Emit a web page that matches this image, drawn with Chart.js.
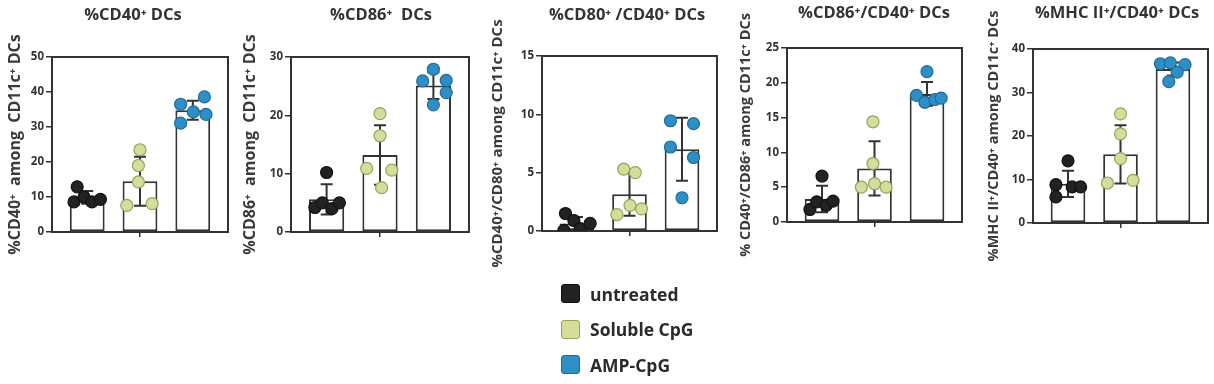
<!DOCTYPE html>
<html>
<head>
<meta charset="utf-8">
<script src="https://cdn.jsdelivr.net/npm/chart.js@4.4.1/dist/chart.umd.min.js"></script>
<style>
  html, body { margin: 0; padding: 0; background: #fff; width: 1214px; height: 384px; overflow: hidden; position: relative; }
  canvas.panel { position: absolute; top: 0; }
  #legend { position: absolute; left: 561px; top: 276px; font: bold 17.5px "Open Sans", "Noto Sans", sans-serif; color: #2b2b2b; }
  .item { display: flex; align-items: center; height: 35.5px; }
  .swatch { width: 19px; height: 19px; border-radius: 3px; margin-right: 10px; box-sizing: border-box; border: 1.5px solid; }
</style>
</head>
<body>
<canvas id="p0" class="panel"></canvas>
<canvas id="p1" class="panel"></canvas>
<canvas id="p2" class="panel"></canvas>
<canvas id="p3" class="panel"></canvas>
<canvas id="p4" class="panel"></canvas>
<div id="legend"></div>
<script>
// groups
const groups = ['untreated', 'Soluble CpG', 'AMP-CpG'];

// %CD40+ DCs
const cd40Untreated = [12.9, 8.6, 10.0, 8.6, 9.3];
const cd40Soluble   = [23.5, 19.0, 14.3, 7.6, 8.1];
const cd40Amp       = [36.5, 38.6, 34.3, 31.1, 33.6];
const cd40Mean      = [9.9, 14.5, 34.8];
const cd40Sd        = [1.8, 7.0, 2.7];
const cd40Ticks     = [0, 10, 20, 30, 40, 50];
const cd40Jitter    = [[-0.19, -0.25, -0.06, 0.09, 0.25], [0, -0.03, -0.03, -0.25, 0.23], [-0.23, 0.22, 0.01, -0.23, 0.25]];

// %CD86+ DCs
const cd86Untreated = [10.2, 4.2, 5.0, 4.0, 5.0];
const cd86Soluble   = [20.3, 16.5, 10.9, 10.6, 7.6];
const cd86Amp       = [27.9, 25.9, 26.0, 23.9, 21.8];
const cd86Mean      = [5.6, 13.2, 25.1];
const cd86Sd        = [2.6, 5.1, 2.3];
const cd86Ticks     = [0, 10, 20, 30];
const cd86Jitter    = [[0, -0.22, -0.08, 0.1, 0.24], [0, 0, -0.25, 0.22, 0.03], [0, -0.2, 0.24, 0.24, 0]];

// %CD80+/CD40+ DCs
const cd80Untreated = [1.5, 0.9, 0.05, 0.2, 0.65];
const cd80Soluble   = [5.3, 5.0, 2.2, 1.4, 1.9];
const cd80Amp       = [9.45, 9.2, 7.2, 6.3, 2.85];
const cd80Mean      = [0.65, 3.15, 7.0];
const cd80Sd        = [0.55, 1.85, 2.7];
const cd80Ticks     = [0, 5, 10, 15];
const cd80Jitter    = [[-0.22, -0.06, -0.25, 0.06, 0.25], [-0.11, 0.11, 0.01, -0.24, 0.23], [-0.22, 0.22, -0.22, 0.22, 0]];

// %CD86+/CD40+ DCs
const dpUntreated = [6.6, 1.8, 2.9, 2.4, 3.0];
const dpSoluble   = [14.4, 8.4, 5.5, 5.0, 5.0];
const dpAmp       = [21.6, 18.2, 17.2, 17.6, 17.8];
const dpMean      = [3.3, 7.7, 18.4];
const dpSd        = [1.9, 3.9, 1.7];
const dpTicks     = [0, 5, 10, 15, 20, 25];
const dpJitter    = [[0, -0.23, -0.1, 0.08, 0.21], [-0.03, -0.03, 0, -0.25, 0.22], [0, -0.2, -0.04, 0.15, 0.27]];

// %MHC II+/CD40+ DCs
const mhcUntreated = [14.3, 8.8, 6.0, 8.3, 8.3];
const mhcSoluble   = [25.1, 20.5, 14.8, 9.2, 9.8];
const mhcAmp       = [36.6, 36.8, 36.4, 34.7, 32.5];
const mhcMean      = [9.0, 15.8, 35.4];
const mhcSd        = [3.0, 6.7, 1.5];
const mhcTicks     = [0, 10, 20, 30, 40];
const mhcJitter    = [[0, -0.23, -0.23, 0.08, 0.24], [0, 0, 0, -0.25, 0.24], [-0.24, -0.05, 0.23, 0.08, -0.08]];

const panels = [
  { title: '%CD40⁺ DCs', yTitle: '%CD40⁺  among  CD11c⁺ DCs',
    pts: [cd40Untreated, cd40Soluble, cd40Amp], jitter: cd40Jitter, mean: cd40Mean, sd: cd40Sd, ticks: cd40Ticks },
  { title: '%CD86⁺  DCs', yTitle: '%CD86⁺  among  CD11c⁺ DCs',
    pts: [cd86Untreated, cd86Soluble, cd86Amp], jitter: cd86Jitter, mean: cd86Mean, sd: cd86Sd, ticks: cd86Ticks },
  { title: '%CD80⁺ /CD40⁺ DCs', yTitle: '%CD40⁺/CD80⁺ among CD11c⁺ DCs',
    pts: [cd80Untreated, cd80Soluble, cd80Amp], jitter: cd80Jitter, mean: cd80Mean, sd: cd80Sd, ticks: cd80Ticks },
  { title: '%CD86⁺/CD40⁺ DCs', yTitle: '% CD40⁺/CD86⁺ among CD11c⁺ DCs',
    pts: [dpUntreated, dpSoluble, dpAmp], jitter: dpJitter, mean: dpMean, sd: dpSd, ticks: dpTicks },
  { title: '%MHC II⁺/CD40⁺ DCs', yTitle: '%MHC II⁺/CD40⁺ among CD11c⁺ DCs',
    pts: [mhcUntreated, mhcSoluble, mhcAmp], jitter: mhcJitter, mean: mhcMean, sd: mhcSd, ticks: mhcTicks }
];

// page layout of each panel: axis-title x and size, plot box, chart-title centre
const boxes = [
  { yt: 16,  ys: 16,   l: 52,   t: 57, r: 228,  b: 232, tx: 133,  ty: 15 },
  { yt: 251, ys: 16,   l: 291,  t: 57, r: 469,  b: 232, tx: 381,  ty: 15 },
  { yt: 498, ys: 15,   l: 542,  t: 56, r: 717,  b: 231, tx: 627,  ty: 15 },
  { yt: 746, ys: 14.5, l: 787,  t: 48, r: 962,  b: 222, tx: 874,  ty: 13 },
  { yt: 994, ys: 14.5, l: 1033, t: 49, r: 1208, b: 223, tx: 1117, ty: 13 }
];

const fillColors = ['#222222', '#d6dd9b', '#2e8fc6'];
const edgeColors = ['#111111', '#97a25a', '#1f6c99'];
const ink = '#333333';
const fontStack = '"Open Sans", "Noto Sans", "DejaVu Sans", sans-serif';

Chart.defaults.font.family = fontStack;
Chart.defaults.color = ink;

// plot frame (GraphPad style box)
const framePlugin = {
  id: 'frame',
  beforeDatasetsDraw(chart) {
    const { ctx, chartArea: a } = chart;
    ctx.save();
    ctx.strokeStyle = ink;
    ctx.lineWidth = 2;
    ctx.strokeRect(a.left, a.top, a.right - a.left, a.bottom - a.top);
    ctx.restore();
  }
};

// mean +/- SD whiskers, drawn right after the bars so the dots sit on top
const errorBarPlugin = {
  id: 'errbars',
  afterDatasetDraw(chart, args, opts) {
    if (args.meta.type !== 'bar') return;
    const { ctx } = chart;
    const y = chart.scales.y;
    ctx.save();
    ctx.strokeStyle = ink;
    ctx.lineWidth = 2;
    args.meta.data.forEach((bar, i) => {
      const m = opts.mean[i], s = opts.sd[i];
      const yTop = y.getPixelForValue(m + s);
      const yBot = y.getPixelForValue(Math.max(m - s, 0));
      ctx.beginPath();
      ctx.moveTo(bar.x, yTop); ctx.lineTo(bar.x, yBot);
      ctx.moveTo(bar.x - 6, yTop); ctx.lineTo(bar.x + 6, yTop);
      ctx.moveTo(bar.x - 6, yBot); ctx.lineTo(bar.x + 6, yBot);
      ctx.stroke();
    });
    ctx.restore();
  }
};

// panel heading, placed where it sits in the figure
const headingPlugin = {
  id: 'heading',
  afterDraw(chart, args, opts) {
    const { ctx } = chart;
    ctx.save();
    ctx.fillStyle = ink;
    ctx.font = 'bold 16.5px ' + fontStack;
    ctx.textAlign = 'center';
    ctx.textBaseline = 'middle';
    ctx.fillText(opts.text, opts.x, opts.y);
    ctx.restore();
  }
};

panels.forEach((p, idx) => {
  const box = boxes[idx];
  const H = 290;
  const cl = Math.round(box.yt - box.ys * 0.6);
  const cw = box.r - cl + 40;
  const canvas = document.getElementById('p' + idx);
  canvas.style.left = cl + 'px';
  canvas.width = cw;
  canvas.height = H;

  const datasets = p.pts.map((vals, g) => ({
    type: 'scatter',
    label: groups[g],
    data: vals.map((v, k) => ({ x: g + p.jitter[g][k], y: v })),
    backgroundColor: fillColors[g],
    borderColor: edgeColors[g],
    borderWidth: 1.2,
    pointRadius: 6,
    order: 0
  }));
  datasets.push({
    type: 'bar',
    label: 'mean',
    data: p.mean.map((v, g) => ({ x: g, y: v })),
    backgroundColor: '#ffffff',
    borderColor: ink,
    borderWidth: 2,
    borderSkipped: false,
    categoryPercentage: 1,
    barPercentage: 0.66,
    order: 1
  });

  new Chart(canvas, {
    type: 'bar',
    data: { datasets },
    plugins: [framePlugin, errorBarPlugin, headingPlugin],
    options: {
      responsive: false,
      animation: false,
      events: [],
      layout: { padding: { left: 0, top: box.t, right: 40, bottom: H - box.b - 10 } },
      plugins: {
        legend: { display: false },
        tooltip: { enabled: false },
        title: { display: false },
        errbars: { mean: p.mean, sd: p.sd },
        heading: { text: p.title, x: box.tx - cl, y: box.ty }
      },
      scales: {
        x: {
          type: 'linear',
          min: -0.667,
          max: 2.667,
          offset: false,
          afterBuildTicks: s => { s.ticks = [{ value: 1 }]; },
          afterFit: s => { s.height = 10; },
          ticks: { display: false },
          grid: { display: true, offset: false, drawOnChartArea: false, tickLength: 5, color: ink, lineWidth: 1.5 },
          border: { display: false }
        },
        y: {
          min: 0,
          max: p.ticks[p.ticks.length - 1],
          afterBuildTicks: s => { s.ticks = p.ticks.map(v => ({ value: v })); },
          afterFit: s => { s.width = box.l - cl; },
          ticks: { color: ink, font: { size: 11.5, weight: 'bold' }, padding: 2 },
          grid: { drawOnChartArea: false, tickLength: 6, color: ink, lineWidth: 1.5 },
          border: { display: false },
          title: {
            display: true,
            text: p.yTitle,
            color: '#3a3a3a',
            padding: 0,
            font: { size: box.ys, weight: 'bold', lineHeight: 1.2 }
          }
        }
      }
    }
  });
});

// legend
const legend = document.getElementById('legend');
groups.forEach((g, i) => {
  const row = document.createElement('div');
  row.className = 'item';
  const sw = document.createElement('span');
  sw.className = 'swatch';
  sw.style.background = fillColors[i];
  sw.style.borderColor = edgeColors[i];
  row.appendChild(sw);
  row.appendChild(document.createTextNode(g));
  legend.appendChild(row);
});
</script>
</body>
</html>
